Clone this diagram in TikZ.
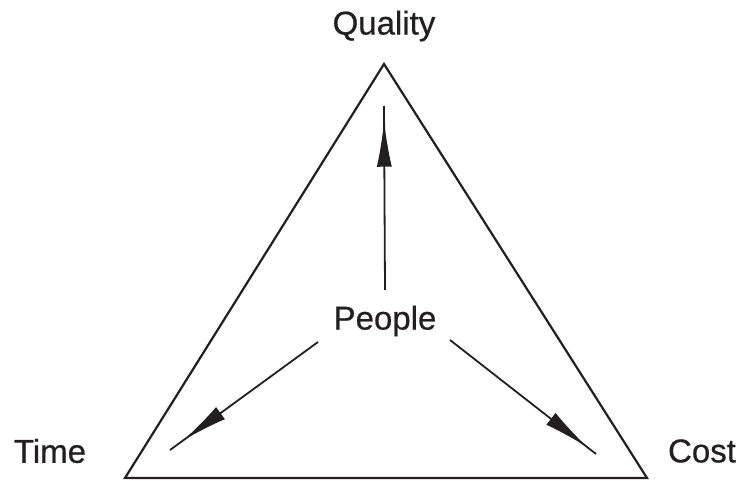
\documentclass[tikz,border=0pt]{standalone}
\usepackage{fontspec}
\setmainfont[FakeBold=0.6]{Liberation Sans}
\usepackage{xcolor}
\usetikzlibrary{arrows.meta,positioning,decorations.markings}
\definecolor{ink}{HTML}{231F20}
\tikzset{
  lbl/.style={font=\fontsize{33}{36}\selectfont, text=ink, inner sep=0pt},
  side/.style={draw=ink, line width=2.2pt, line join=miter},
  pull/.style={draw=ink, line width=1.8pt,
               postaction={decorate},
               decoration={markings, mark=at position #1 with
                 {\arrow{Latex[length=46pt,width=15pt]}}}}
}
\begin{document}
\begin{tikzpicture}[x=1pt,y=-1pt]
  \useasboundingbox (0,0) rectangle (736,481);
  % corners of the triangle
  \coordinate (top) at (384,64);
  \coordinate (left) at (125,478);
  \coordinate (right) at (647,478);
  \draw[side] (top) -- (right) -- (left) -- cycle;

  \node[lbl] (quality) at (384,26) {Quality};
  \node[lbl] (time) at (50,451) {Time};
  \node[lbl] (cost) at (702,451) {Cost};
  \node[lbl] (people) at (385,321) {People};

  % arrow ends
  \coordinate (up0) at (385,290);
  \coordinate (up) at (384,106);
  \coordinate (dl0) at (318,342);
  \coordinate (dl) at (170,450);
  \coordinate (dr0) at (450,340);
  \coordinate (dr) at (596,454);

  \draw[pull=0.92] (up0) -- (up);
  \draw[pull=0.91] (dl0) -- (dl);
  \draw[pull=0.94] (dr0) -- (dr);
\end{tikzpicture}
\end{document}
